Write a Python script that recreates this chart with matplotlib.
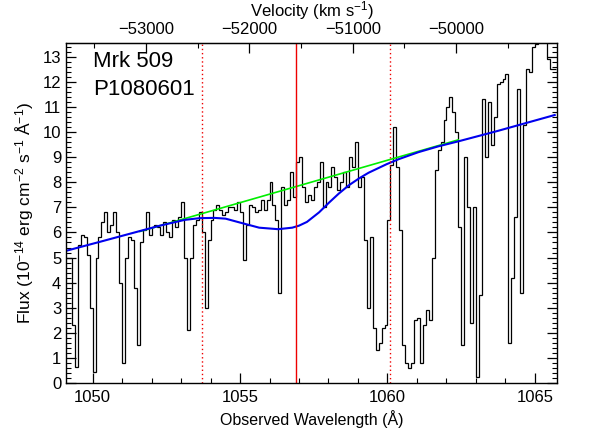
import numpy as np
import matplotlib
matplotlib.use('Agg')
import matplotlib.pyplot as plt
from matplotlib.ticker import MultipleLocator

plt.rcParams['font.family'] = ['Liberation Sans', 'DejaVu Sans']
plt.rcParams['mathtext.fontset'] = 'custom'
plt.rcParams['mathtext.rm'] = 'Liberation Sans'
plt.rcParams['mathtext.default'] = 'regular'

# spectrum: 0.1 A bins starting at 1049.1 A
wave0 = 1049.10
dwave = 0.10
flux = [5.0, 5.0, 2.3, 0.65, 5.5, 5.9, 5.8, 5.1, 3.0, 0.45,
        5.0, 5.8, 6.4, 6.8, 6.0, 6.3, 6.8, 6.0, 4.0, 0.8,
        5.0, 5.8, 5.7, 3.8, 1.5, 5.6, 6.1, 6.8, 5.9, 6.2,
        6.3, 6.2, 5.9, 6.4, 6.0, 5.8, 6.5, 6.2, 6.6, 7.2,
        5.0, 2.1, 5.0, 6.3, 6.5, 6.8, 6.0, 3.0, 5.7, 6.5,
        6.9, 7.1, 6.9, 6.7, 6.8, 7.0, 7.0, 6.9, 7.2, 6.8,
        4.9, 6.3, 7.1, 7.0, 6.8, 6.9, 7.3, 6.9, 7.3, 8.0,
        7.1, 6.5, 3.6, 7.8, 7.1, 7.3, 8.4, 7.4, 8.8, 9.0,
        7.8, 7.2, 7.5, 7.3, 7.8, 8.0, 8.8, 7.0, 8.0, 7.8,
        8.6, 8.2, 7.7, 8.0, 8.4, 7.8, 9.0, 8.6, 9.6, 7.8,
        8.2, 5.7, 3.0, 5.8, 2.2, 1.3, 1.6, 2.2, 2.3, 6.5,
        8.7, 10.2, 8.6, 6.1, 1.5, 0.8, 0.6, 0.8, 2.5, 2.6,
        0.8, 2.3, 2.9, 2.5, 5.0, 8.5, 9.3, 9.6, 10.5, 11.0,
        11.4, 10.8, 10.0, 6.2, 1.5, 9.0, 7.0, 2.4, 7.0, 0.25,
        3.5, 11.3, 9.0, 11.2, 9.5, 10.6, 11.9, 12.0, 12.1, 12.3,
        1.6, 4.2, 6.6, 11.7, 3.6, 10.3, 12.5, 12.4, 13.4, 13.5,
        14.0, 14.0, 13.8, 12.9, 12.5, 12.5]

# continuum (green)
cont_wave = [1051.61, 1062.40]
cont_flux = [6.04, 9.69]

# model with absorption (blue)
model_wave = [1049.11, 1050.26, 1051.27, 1052.28, 1053.12, 1053.63, 1054.14,
              1054.51, 1054.98, 1055.65, 1056.29, 1056.77, 1057.00, 1057.27,
              1057.68, 1058.01, 1058.35, 1058.69, 1059.03, 1059.36, 1059.97,
              1060.38, 1061.05, 1061.72, 1062.40, 1063.75, 1065.67]
model_flux = [5.27, 5.63, 5.95, 6.27, 6.50, 6.57, 6.58,
              6.55, 6.40, 6.19, 6.13, 6.19, 6.27, 6.42,
              6.80, 7.18, 7.55, 7.88, 8.15, 8.38, 8.72,
              8.92, 9.20, 9.43, 9.63, 10.05, 10.68]

line_center = 1056.91
line_limits = [1053.70, 1060.10]

# velocity scale of the top axis
v_ref = -52000.0
wave_ref = 1055.316
a_per_kms = 3.507e-3

def wave2vel(w):
    return v_ref + (np.asarray(w) - wave_ref) / a_per_kms

def vel2wave(v):
    return wave_ref + (np.asarray(v) - v_ref) * a_per_kms

fig = plt.figure(figsize=(5.92, 4.30), dpi=100)
ax = fig.add_axes([0.1115, 0.1093, 0.8295, 0.7907])

edges = wave0 + dwave * np.arange(len(flux) + 1)
ax.stairs(flux, edges, baseline=None, color='black', lw=0.9)
ax.plot(cont_wave, cont_flux, color='#00ee00', lw=1.2)
ax.plot(model_wave, model_flux, color='#0000ee', lw=1.5)

ax.axvline(line_center, color='#ee0000', lw=1.0)
for w in line_limits:
    ax.axvline(w, color='#ee0000', lw=1.0, ls=(0, (1, 2)))

ax.set_xlim(1049.1, 1065.75)
ax.set_ylim(0, 13.55)

ax.xaxis.set_major_locator(MultipleLocator(5))
ax.xaxis.set_minor_locator(MultipleLocator(1))
ax.yaxis.set_major_locator(MultipleLocator(1))
ax.yaxis.set_minor_locator(MultipleLocator(0.2))
ax.tick_params(which='both', direction='in', top=False, right=True, labelsize=12)
ax.tick_params(axis='x', pad=5)
ax.tick_params(which='major', length=7, width=0.9)
ax.tick_params(which='minor', length=3.5, width=0.8)
for s in ax.spines.values():
    s.set_linewidth(1.0)

sec = ax.secondary_xaxis('top', functions=(wave2vel, vel2wave))
sec.xaxis.set_major_locator(MultipleLocator(1000))
sec.xaxis.set_minor_locator(MultipleLocator(500))
sec.tick_params(which='both', direction='in', labelsize=12, pad=4)
sec.tick_params(which='major', length=7, width=0.9)
sec.tick_params(which='minor', length=3.5, width=0.8)
sec.set_xlabel(r'Velocity (km s$^{-1}$)', fontsize=12, labelpad=4)

ax.set_xlabel('Observed Wavelength (Å)', fontsize=11.5, labelpad=4)
ax.set_ylabel(r'Flux (10$^{-14}$ erg cm$^{-2}$ s$^{-1}$ Å$^{-1}$)', fontsize=12.5, labelpad=5)

ax.text(0.055, 0.945, 'Mrk 509', transform=ax.transAxes, fontsize=16, va='center')
ax.text(0.055, 0.862, 'P1080601', transform=ax.transAxes, fontsize=16, va='center')

fig.savefig('out.png', dpi=100)
